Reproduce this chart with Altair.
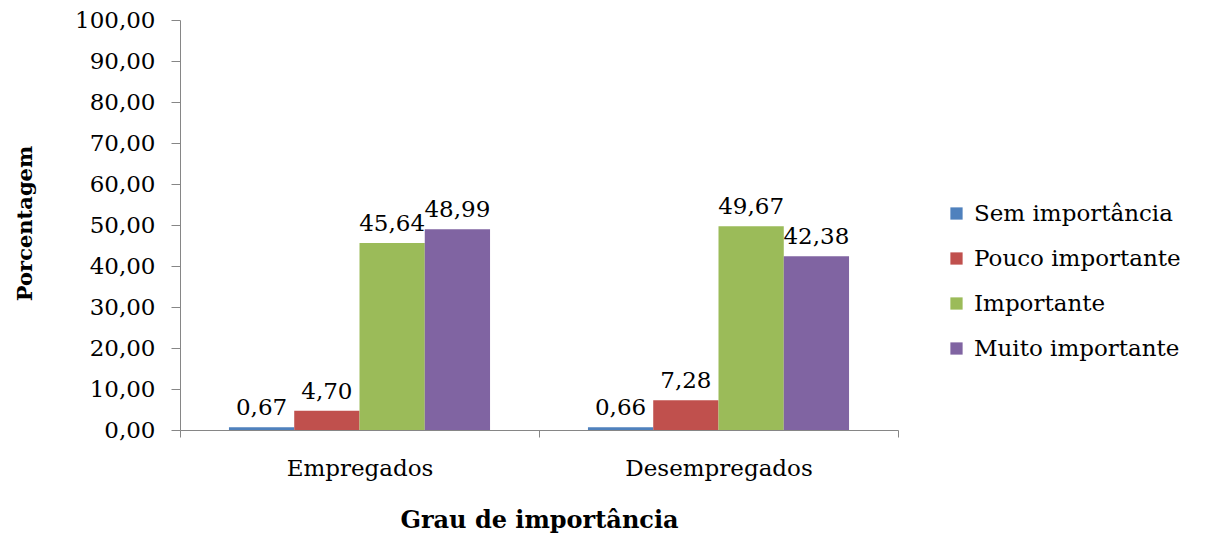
import altair as alt
import pandas as pd

# Survey answers: share of respondents (%) per importance level and group
grupos = ["Empregados", "Desempregados"]
niveis = ["Sem importância", "Pouco importante", "Importante", "Muito importante"]
empregados = [0.67, 4.70, 45.64, 48.99]
desempregados = [0.66, 7.28, 49.67, 42.38]
cores = ["#4F81BD", "#C0504D", "#9BBB59", "#8064A2"]
y_ticks = [0, 10, 20, 30, 40, 50, 60, 70, 80, 90, 100]

rows = []
for grupo, valores in zip(grupos, [empregados, desempregados]):
    for nivel, v in zip(niveis, valores):
        rows.append({"grupo": grupo, "nivel": nivel, "valor": v})
df = pd.DataFrame(rows)

FONT = "DejaVu Serif"

x_enc = alt.X(
    "grupo:N",
    sort=grupos,
    scale=alt.Scale(paddingInner=0, paddingOuter=0),
    axis=alt.Axis(
        title="Grau de importância",
        titleFontWeight="bold",
        titleFontSize=24,
        titleFont=FONT,
        titlePadding=28,
        labelFont=FONT,
        labelFontSize=23,
        labelColor="black",
        labelAngle=0,
        labelPadding=20,
        labelLimit=0,
        tickBand="extent",
        tickSize=7,
        tickColor="#868686",
        domainColor="#868686",
    ),
)
xoff_enc = alt.XOffset(
    "nivel:N",
    sort=niveis,
    scale=alt.Scale(paddingInner=0, paddingOuter=0.75),
)

bars = alt.Chart(df).mark_bar().encode(
    x=x_enc,
    xOffset=xoff_enc,
    y=alt.Y(
        "valor:Q",
        scale=alt.Scale(domain=[0, 100], nice=False),
        axis=alt.Axis(
            title="Porcentagem",
            titleFontWeight="bold",
            titleFontSize=21,
            titleFont=FONT,
            titleX=-155,
            titleY=203,
            titleAngle=-90,
            titleAlign="center",
            titleBaseline="middle",
            values=y_ticks,
            labelExpr="replace(format(datum.value, '.2f'), '.', ',')",
            labelFont=FONT,
            labelFontSize=23,
            labelColor="black",
            labelPadding=16,
            tickSize=9,
            tickColor="#868686",
            domainColor="#868686",
            grid=False,
        ),
    ),
    color=alt.Color(
        "nivel:N",
        sort=niveis,
        scale=alt.Scale(domain=niveis, range=cores),
        legend=alt.Legend(
            title=None,
            orient="none",
            legendX=765,
            legendY=182,
            symbolType="square",
            symbolSize=150,
            symbolStrokeWidth=0,
            labelFont=FONT,
            labelFontSize=23,
            labelColor="black",
            labelLimit=0,
            rowPadding=21,
            labelOffset=6,
        ),
    ),
)

labels = alt.Chart(df).transform_calculate(
    rotulo="replace(format(datum.valor, '.2f'), '.', ',')"
).mark_text(
    font=FONT, fontSize=23, color="black", baseline="alphabetic", dy=-12
).encode(
    x=alt.X("grupo:N", sort=grupos),
    xOffset=alt.XOffset("nivel:N", sort=niveis),
    y="valor:Q",
    text="rotulo:N",
)

chart = (
    alt.layer(bars, labels)
    .properties(
        width=718,
        height=410,
        autosize=alt.AutoSizeParams(type="none"),
        padding={"left": 180, "top": 20, "right": 309, "bottom": 103},
        background="white",
    )
    .configure(font=FONT)
    .configure_view(stroke=None)
)

chart.save("out.html", embed_options={"renderer": "svg", "actions": False})
